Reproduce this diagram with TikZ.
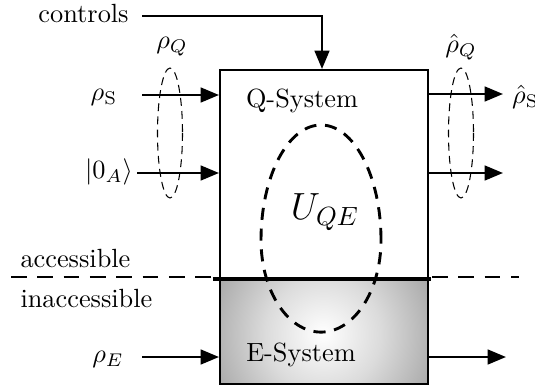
\documentclass[tikz,border=0pt]{standalone}
\usetikzlibrary{arrows.meta}
\pgfdeclareradialshading{esys}{\pgfpoint{0bp}{0bp}}{color(0bp)=(white); color(12bp)=(black!14); color(24bp)=(black!33); color(43bp)=(black!54); color(50bp)=(black!60)}
\begin{document}
\begin{tikzpicture}[x=0.38pt,y=-0.38pt,
  arr/.style={line width=0.95pt,-{Triangle[length=7pt,width=5.6pt]}},
  boxline/.style={line width=0.8pt},
  thindash/.style={line width=0.4pt,dash pattern=on 3pt off 2pt},
  thickdash/.style={line width=1.1pt,dash pattern=on 4.6pt off 3.3pt},
  sepline/.style={line width=0.9pt,dash pattern=on 6pt off 4pt}]
\useasboundingbox (0,0) rectangle (535,388);
% accessible / inaccessible separator
\draw[sepline] (11,277) -- (519,277);
% boxes
\node[draw, boxline, fill=white, minimum width=79.04pt, minimum height=79.04pt, inner sep=0pt, anchor=north west] (qbox) at (219,69) {};
\node[draw, boxline, minimum width=79.04pt, minimum height=40.28pt, inner sep=0pt, anchor=north west,
  path picture={\shade[shading=esys] ([xshift=-0.4pt,yshift=-1.1pt]path picture bounding box.center) circle (45.6pt);}] (ebox) at (219,277) {};
\draw[line width=1.3pt] ([xshift=-2.3pt]qbox.south west) -- ([xshift=0.8pt]qbox.south east);
% egg
\draw[thickdash] (381,240) arc[start angle=0, end angle=180, x radius=22.8pt, y radius=43.7pt]
  arc[start angle=180, end angle=360, x radius=22.8pt, y radius=35pt] -- cycle;
% texts
\node (ctl) at (83.5,14) {controls};
\node (qsys) at (302,101) {Q-System};
\node (uqe) at (325,212) {\Large $U_{QE}$};
\node (esys) at (301,355) {E-System};
\node[anchor=west, inner sep=0pt] (acc) at (20,259) {accessible};
\node[anchor=west, inner sep=0pt] (inacc) at (20,299) {inaccessible};
\node (rs) at (104,97) {$\rho_{\mathrm{S}}$};
\node (za) at (109,172) {$|0_A\rangle$};
\node (re) at (108,359) {$\rho_E$};
\node (rq) at (172,47) {$\rho_Q$};
\node (rqh) at (461,47) {$\hat\rho_Q$};
\node[anchor=west, inner sep=1pt] (rsh) at (509,97) {$\hat\rho_{\mathrm{S}}$};
% controls arrow
\coordinate (ctla) at (142,16);
\coordinate (ctlb) at (322,16);
\draw[arr, line join=miter] (ctla) -- (ctlb) -- (ctlb |- qbox.north);
% inputs
\coordinate (rsa) at (142,95);
\coordinate (zaa) at (137,173);
\coordinate (rea) at (142,357);
\draw[arr] (rsa) -- (rsa -| qbox.west);
\draw[arr] (zaa) -- (zaa -| qbox.west);
\draw[arr] (rea) -- (rea -| ebox.west);
% outputs
\coordinate (o1) at (503,94);
\coordinate (o2) at (503,173);
\coordinate (o3) at (506,357);
\draw[arr] (o1 -| qbox.east) -- (o1);
\draw[arr] (o2 -| qbox.east) -- (o2);
\draw[arr] (o3 -| ebox.east) -- (o3);
% grouping ellipses
\draw[thindash] (170,133) ellipse (12.5 and 65);
\draw[thindash] (461,133) ellipse (12.5 and 65);
\end{tikzpicture}
\end{document}
